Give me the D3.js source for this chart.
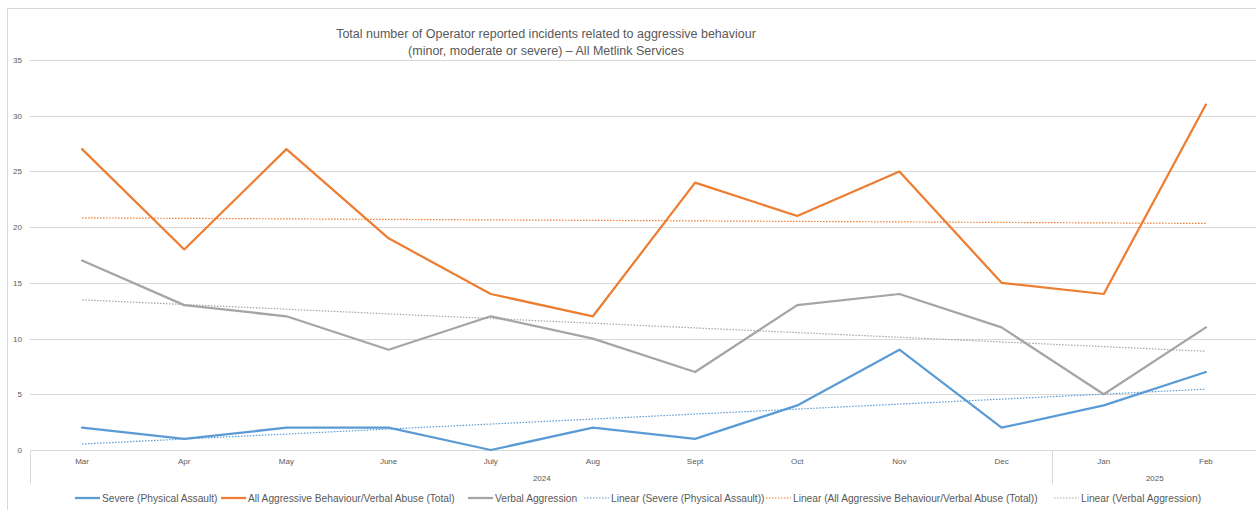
<!DOCTYPE html>
<html>
<head>
<meta charset="utf-8">
<title>Operator reported incidents</title>
<script src="https://d3js.org/d3.v7.min.js"></script>
<style>
  body { margin: 0; background: #fff; font-family: "Liberation Sans", Arial, sans-serif; }
  .grid line { stroke: #d9d9d9; }
</style>
</head>
<body>
<div id="chart"></div>
<script>
// data
var months = ["Mar", "Apr", "May", "June", "July", "Aug", "Sept", "Oct", "Nov", "Dec", "Jan", "Feb"];
var years = [{label: "2024", from: 0, to: 9}, {label: "2025", from: 10, to: 11}];
var severe = [2, 1, 2, 2, 0, 2, 1, 4, 9, 2, 4, 7];
var total = [27, 18, 27, 19, 14, 12, 24, 21, 25, 15, 14, 31];
var verbal = [17, 13, 12, 9, 12, 10, 7, 13, 14, 11, 5, 11];
var yTicks = [0, 5, 10, 15, 20, 25, 30, 35];

var series = [
  {name: "Severe (Physical Assault)", values: severe, color: "#5b9bd5"},
  {name: "All Aggressive Behaviour/Verbal Abuse (Total)", values: total, color: "#ed7d31"},
  {name: "Verbal Aggression", values: verbal, color: "#a5a5a5"}
];

var W = 1256, H = 510;
var margin = {top: 60, right: -1, bottom: 60, left: 31};

var svg = d3.select("#chart").append("svg").attr("width", W).attr("height", H);

// outer chart frame
svg.append("rect").attr("x", 7.5).attr("y", 8.5).attr("width", W).attr("height", H)
  .attr("fill", "none").attr("stroke", "#d9d9d9");

var x = d3.scaleBand().domain(months).range([margin.left, W - margin.right]);
var y = d3.scaleLinear().domain([0, 35]).range([H - margin.bottom, margin.top]);

// gridlines
svg.append("g").attr("class", "grid")
  .selectAll("line").data(yTicks).enter().append("line")
  .attr("x1", margin.left - 1).attr("x2", W)
  .attr("y1", function(d) { return Math.round(y(d)) + 0.5; })
  .attr("y2", function(d) { return Math.round(y(d)) + 0.5; });

// y axis labels
var yAxis = d3.axisLeft(y).tickValues(yTicks).tickSize(0).tickPadding(9);
svg.append("g").attr("transform", "translate(" + (margin.left) + ",0)").call(yAxis)
  .call(function(g) { g.select(".domain").remove(); })
  .selectAll("text").attr("font-size", 8).attr("fill", "#595959")
  .attr("font-family", "Liberation Sans, Arial");

// x axis, month level
var xAxis = d3.axisBottom(x).tickSize(0).tickPadding(8);
svg.append("g").attr("transform", "translate(0," + (H - margin.bottom) + ")").call(xAxis)
  .call(function(g) { g.select(".domain").remove(); })
  .selectAll("text").attr("font-size", 8).attr("fill", "#595959")
  .attr("font-family", "Liberation Sans, Arial");

// x axis, year level with separators
var base = Math.round(y(0)) + 0.5;
var seps = [x(months[0]), x(months[years[1].from])];
svg.selectAll(".sep").data(seps).enter().append("line")
  .attr("x1", function(d) { return Math.round(d) - 0.5; })
  .attr("x2", function(d) { return Math.round(d) - 0.5; })
  .attr("y1", base).attr("y2", base + 34)
  .attr("stroke", "#d9d9d9");
svg.selectAll(".year").data(years).enter().append("text")
  .attr("x", function(d) { return (x(months[d.from]) + x(months[d.to]) + x.bandwidth()) / 2; })
  .attr("y", base + 30)
  .attr("text-anchor", "middle").attr("font-size", 8).attr("fill", "#595959")
  .text(function(d) { return d.label; });

var cx = function(i) { return x(months[i]) + x.bandwidth() / 2; };

// linear trend lines (least squares, as the spreadsheet trendline)
function trend(vals) {
  var n = vals.length, mx = (n + 1) / 2, my = d3.mean(vals), sxy = 0, sxx = 0;
  vals.forEach(function(v, i) { sxy += (i + 1 - mx) * (v - my); sxx += (i + 1 - mx) * (i + 1 - mx); });
  var b = sxy / sxx, a = my - b * mx;
  return [a + b, a + b * n];
}

var line = d3.line().x(function(d, i) { return cx(i); }).y(function(d) { return y(d); });

series.forEach(function(s) {
  var t = trend(s.values);
  svg.append("line")
    .attr("x1", cx(0)).attr("x2", cx(months.length - 1))
    .attr("y1", y(t[0])).attr("y2", y(t[1]))
    .attr("stroke", s.color).attr("stroke-width", 1.2).attr("stroke-dasharray", "1.5,1.5");
});

series.forEach(function(s) {
  svg.append("path").datum(s.values)
    .attr("d", line).attr("fill", "none")
    .attr("stroke", s.color).attr("stroke-width", 2.25)
    .attr("stroke-linejoin", "round").attr("stroke-linecap", "round");
});

// title
var title = svg.append("text").attr("text-anchor", "middle").attr("fill", "#595959")
  .attr("font-size", 12.5);
title.append("tspan").attr("x", 546).attr("y", 38)
  .text("Total number of Operator reported incidents related to aggressive behaviour");
title.append("tspan").attr("x", 546).attr("y", 55)
  .text("(minor, moderate or severe) \u2013 All Metlink Services");

// legend
var legendItems = [
  {name: series[0].name, color: series[0].color, dash: null, x: 75},
  {name: series[1].name, color: series[1].color, dash: null, x: 221},
  {name: series[2].name, color: series[2].color, dash: null, x: 468},
  {name: "Linear (" + series[0].name + ")", color: series[0].color, dash: "1.5,1.5", x: 584},
  {name: "Linear (" + series[1].name + ")", color: series[1].color, dash: "1.5,1.5", x: 766},
  {name: "Linear (" + series[2].name + ")", color: series[2].color, dash: "1.5,1.5", x: 1054}
];
var lg = svg.selectAll(".lg").data(legendItems).enter().append("g")
  .attr("transform", function(d) { return "translate(" + d.x + ",498)"; });
lg.append("line").attr("x1", 0).attr("x2", 25).attr("y1", 0).attr("y2", 0)
  .attr("stroke", function(d) { return d.color; })
  .attr("stroke-width", function(d) { return d.dash ? 1.2 : 2.25; })
  .attr("stroke-dasharray", function(d) { return d.dash; });
lg.append("text").attr("x", 27).attr("y", 3.5).attr("font-size", 10.2).attr("fill", "#595959")
  .text(function(d) { return d.name; });
</script>
</body>
</html>
